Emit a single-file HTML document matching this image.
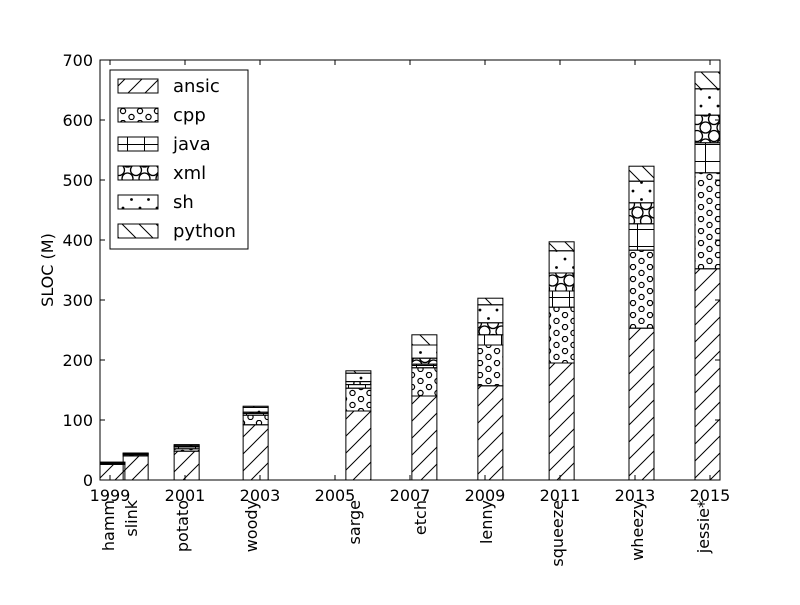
<!DOCTYPE html>
<html><head><meta charset="utf-8"><style>
body{margin:0;background:#fff}
svg text{font-family:"DejaVu Sans","Liberation Sans",sans-serif;fill:#000}
</style></head><body>
<svg id="chart" width="800" height="600" xmlns="http://www.w3.org/2000/svg">
<defs>
<pattern id="p-ansic" patternUnits="userSpaceOnUse" width="17" height="17"><path d="M-2,19 L19,-2 M-2,2 L2,-2 M15,19 L19,15" stroke="#000" stroke-width="1" fill="none"/></pattern>
<pattern id="p-python" patternUnits="userSpaceOnUse" width="17" height="17"><path d="M-2,-2 L19,19 M15,-2 L19,2 M-2,15 L2,19" stroke="#000" stroke-width="1" fill="none"/></pattern>
<pattern id="p-cpp" patternUnits="userSpaceOnUse" width="17" height="12"><circle cx="4" cy="3" r="2.6" stroke="#000" stroke-width="1.2" fill="none"/><circle cx="12.5" cy="9" r="2.6" stroke="#000" stroke-width="1.2" fill="none"/></pattern>
<pattern id="p-xml" patternUnits="userSpaceOnUse" width="17" height="17"><circle cx="8.5" cy="8.5" r="5.5" stroke="#000" stroke-width="1.3" fill="none"/><circle cx="0" cy="17" r="5.5" stroke="#000" stroke-width="1.3" fill="none"/><circle cx="17" cy="17" r="5.5" stroke="#000" stroke-width="1.3" fill="none"/><circle cx="0" cy="0" r="5.5" stroke="#000" stroke-width="1.3" fill="none"/><circle cx="17" cy="0" r="5.5" stroke="#000" stroke-width="1.3" fill="none"/></pattern>
<pattern id="p-java" patternUnits="userSpaceOnUse" width="17" height="17"><path d="M8.5,0 V17 M0,8.5 H17" stroke="#000" stroke-width="1" fill="none"/></pattern>
<pattern id="p-sh" patternUnits="userSpaceOnUse" width="17" height="17"><circle cx="4" cy="4" r="1.4" fill="#000"/><circle cx="12.5" cy="12.5" r="1.4" fill="#000"/></pattern>
</defs>
<g id="bars"></g>
<g id="axes"></g>
</svg>
<script>
const releases = ["hamm","slink","potato","woody","sarge","etch","lenny","squeeze","wheezy","jessie*"];
const releaseDates = [1998.73,1999.35,2000.71,2002.55,2005.29,2007.05,2008.81,2010.71,2012.84,2014.6];
const seriesNames = ["ansic","cpp","java","xml","sh","python"];
const ansic = [26,40,48,92,115,140,157,195,253,352];
const cpp = [1,2,4,16,38,47,68,93,130,160];
const java = [1,1,3,3,6,6,17,27,44,50];
const xml = [0.5,0.5,1,2,5,10,20,30,35,46];
const sh = [1,1,2,8,14,22,30,37,36,44];
const python = [0.3,0.5,1,2,4,17,11,15,25,28];
const yTicks = [0,100,200,300,400,500,600,700];
const xTicks = [1999,2001,2003,2005,2007,2009,2011,2013,2015];

const NS="http://www.w3.org/2000/svg";
const L=100,R=720,T=60,B=480,XMIN=1998.733,XMAX=2015.267,YMAX=700;
const barW=0.667;
const xs=v=>L+(v-XMIN)/(XMAX-XMIN)*(R-L);
const ys=v=>B-v/YMAX*(B-T);
function mk(tag,attrs,parent){const e=document.createElementNS(NS,tag);for(const k in attrs)e.setAttribute(k,attrs[k]);parent.appendChild(e);return e;}
const svg=document.getElementById('chart');
const barsG=document.getElementById('bars');
const axG=document.getElementById('axes');
const data=[ansic,cpp,java,xml,sh,python];
const clip=mk('clipPath',{id:'plotclip'},svg.querySelector('defs'));
mk('rect',{x:L,y:T,width:R-L,height:B-T},clip);
barsG.setAttribute('clip-path','url(#plotclip)');
releases.forEach((r,i)=>{
  let base=0;
  data.forEach((s,j)=>{
    const x0=xs(releaseDates[i]),x1=xs(releaseDates[i]+barW);
    const y0=ys(base+s[i]),y1=ys(base);
    const rect=mk('rect',{x:x0,y:y0,width:x1-x0,height:y1-y0,fill:'url(#p-'+seriesNames[j]+')',stroke:'#000','stroke-width':1},barsG);
    
    
    base+=s[i];
  });
  const cx=xs(releaseDates[i]+barW/2)-3;
  const t=mk('text',{x:0,y:0,'font-size':16,'text-anchor':'end','dominant-baseline':'middle',transform:`translate(${cx},500) rotate(-90)`},axG);
  t.textContent=r;
  
  
});
const fr=mk('rect',{x:L,y:T,width:R-L,height:B-T,fill:'none',stroke:'#000','stroke-width':1},axG);


yTicks.forEach(v=>{
  const y=ys(v);
  mk('line',{x1:L,x2:L+5,y1:y,y2:y,stroke:'#000'},axG);
  mk('line',{x1:R,x2:R-5,y1:y,y2:y,stroke:'#000'},axG);
  const t=mk('text',{x:L-7,y:y+6,'font-size':16,'text-anchor':'end'},axG);
  t.textContent=v;
  
  
});
xTicks.forEach(v=>{
  const x=xs(v);
  mk('line',{x1:x,x2:x,y1:B,y2:B-5,stroke:'#000'},axG);
  mk('line',{x1:x,x2:x,y1:T,y2:T+5,stroke:'#000'},axG);
  const t=mk('text',{x:x,y:B+21,'font-size':16,'text-anchor':'middle'},axG);
  t.textContent=v;
  
  
});
const yl=mk('text',{x:0,y:0,'font-size':16,'text-anchor':'middle',transform:'translate(53,270) rotate(-90)'},axG);
yl.textContent='SLOC (M)';


const lg=mk('g',{},axG);


mk('rect',{x:110,y:70,width:138,height:179,fill:'#fff',stroke:'#000'},lg);
seriesNames.forEach((n,j)=>{
  const y=86+j*29;
  const e=mk('g',{},lg);
  
  
  mk('rect',{x:118,y:y-7,width:40,height:14,fill:'url(#p-'+n+')',stroke:'#000'},e);
  const t=mk('text',{x:173,y:y+6,'font-size':18},e);
  t.textContent=n;
});
</script>
</body></html>
